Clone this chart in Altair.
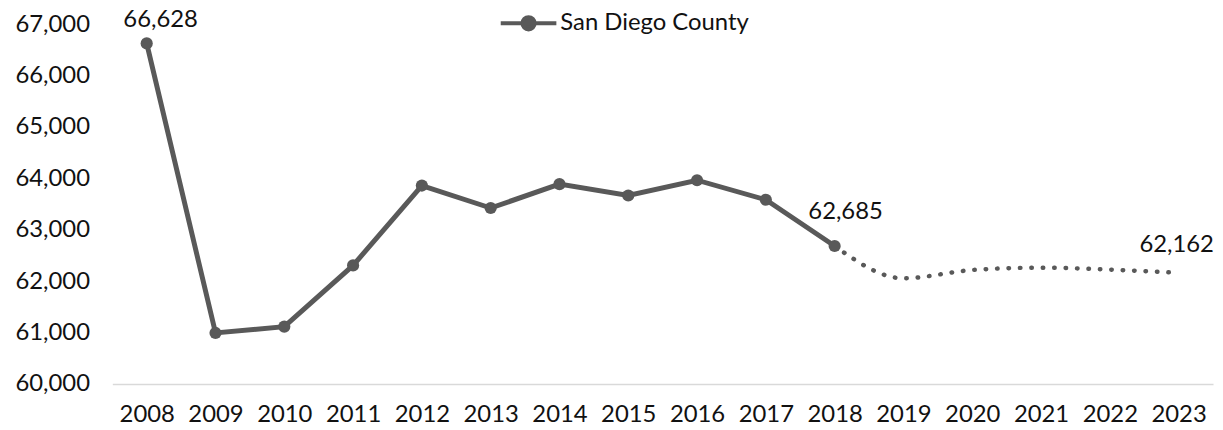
import altair as alt
import pandas as pd

years = ["2008", "2009", "2010", "2011", "2012", "2013", "2014", "2015",
         "2016", "2017", "2018", "2019", "2020", "2021", "2022", "2023"]
actual_years = years[:11]
actual_values = [66628, 60992, 61114, 62307, 63861, 63424, 63888, 63667, 63965, 63584, 62685]
proj_years = years[10:]
proj_values = [62685, 62056, 62217, 62263, 62224, 62162]
label_years = ["2008", "2018", "2023"]
label_texts = ["66,628", "62,685", "62,162"]
series_name = "San Diego County"

FONT = "Lato"
GRAY = "#595959"
TXT = "#111111"
FS = 24

actual_df = pd.DataFrame({"year": actual_years, "value": actual_values, "series": series_name})
proj_df = pd.DataFrame({"year": proj_years, "value": proj_values})
lab_vals = dict(zip(actual_years, actual_values))
lab_vals.update(dict(zip(proj_years, proj_values)))
label_df = pd.DataFrame({"year": label_years, "value": [lab_vals[y] for y in label_years],
                         "text": label_texts})

x = alt.X("year:O", sort=years,
          scale=alt.Scale(type="point", padding=0.5, domain=years),
          axis=alt.Axis(title=None, labelAngle=0, ticks=False, domainColor="#d9d9d9",
                        domainWidth=1.5, labelPadding=19, labelFontSize=FS,
                        labelFont=FONT, labelColor=TXT))
y = alt.Y("value:Q", scale=alt.Scale(domain=[60000, 67000], nice=False, zero=False),
          axis=alt.Axis(title=None, values=list(range(60000, 67001, 1000)), format=",.0f",
                        domain=False, ticks=False, grid=False, labelPadding=23,
                        labelFontSize=FS, labelFont=FONT, labelColor=TXT))

legend_symbol = "M-1,0L1,0M0.22,0A0.22,0.22,0,1,1,-0.22,0A0.22,0.22,0,1,1,0.22,0"

solid = alt.Chart(actual_df).mark_line(strokeWidth=5).encode(
    x=x, y=y,
    color=alt.Color("series:N", scale=alt.Scale(domain=[series_name], range=[GRAY]),
                    legend=alt.Legend(title=None, orient="none", legendX=389, legendY=-31,
                                      symbolType=legend_symbol, symbolSize=3136,
                                      symbolStrokeWidth=4, symbolFillColor=GRAY,
                                      symbolStrokeColor=GRAY, labelFontSize=FS,
                                      labelFont=FONT, labelColor=TXT, labelLimit=0,
                                      labelOffset=2, padding=0)))
points = alt.Chart(actual_df).mark_point(filled=True, size=150, opacity=1, color=GRAY).encode(
    x=x, y=y)
dotted = alt.Chart(proj_df).mark_line(strokeWidth=4.5, strokeDash=[0.5, 11], strokeCap="round",
                                      interpolate="monotone", color=GRAY).encode(x=x, y=y)


def label(yr, dx, dy):
    return alt.Chart(label_df).transform_filter(alt.datum.year == yr).mark_text(
        font=FONT, fontSize=FS, color=TXT, dx=dx, dy=dy, baseline="middle"
    ).encode(x=x, y=y, text="text:N")


chart = alt.layer(solid, dotted, points, label("2008", 14, -24), label("2018", 11, -34),
                  label("2023", -2, -28)).properties(
    width=1108, height=362,
    autosize=alt.AutoSizeParams(type="none"),
    padding={"left": 105, "top": 15, "right": 2, "bottom": 45},
).configure_view(stroke=None)

chart.save("out.html", embed_options={"renderer": "svg", "actions": False})
